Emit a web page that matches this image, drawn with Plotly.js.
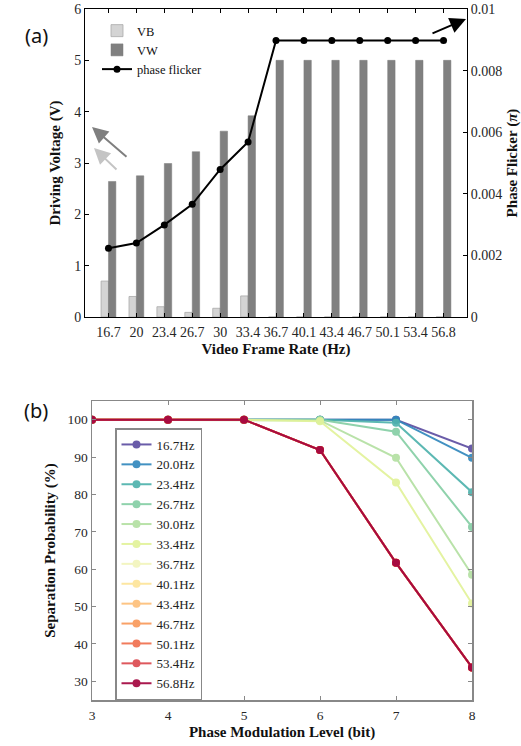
<!DOCTYPE html>
<html>
<head>
<meta charset="utf-8">
<script src="https://cdn.plot.ly/plotly-3.0.1.min.js"></script>
<style>html,body{margin:0;padding:0;background:#fff;}#chart{width:521px;height:746px;}</style>
</head>
<body>
<div id="chart"></div>
<script>
// ---------- Panel (a) data ----------
const frameRates = ['16.7','20','23.4','26.7','30','33.4','36.7','40.1','43.4','46.7','50.1','53.4','56.8'];
const vbValues = [0.70, 0.40, 0.20, 0.09, 0.17, 0.41, 0, 0, 0, 0, 0, 0, 0];
const vwValues = [2.64, 2.75, 2.99, 3.22, 3.62, 3.92, 5.0, 5.0, 5.0, 5.0, 5.0, 5.0, 5.0];
const phaseFlicker = [0.00223, 0.00240, 0.00299, 0.00366, 0.00479, 0.00568, 0.00898, 0.00898, 0.00898, 0.00898, 0.00898, 0.00898, 0.00898];
const flickerTicks = [0, 0.002, 0.004, 0.006, 0.008, 0.01];
const flickerTickText = ['0', '0.002', '0.004', '0.006', '0.008', '0.01'];

// ---------- Panel (b) data ----------
const levels = [3, 4, 5, 6, 7, 8];
const seriesNames = ['16.7Hz','20.0Hz','23.4Hz','26.7Hz','30.0Hz','33.4Hz','36.7Hz','40.1Hz','43.4Hz','46.7Hz','50.1Hz','53.4Hz','56.8Hz'];
const p167 = [100, 100, 100, 100, 100, 92.3];
const p200 = [100, 100, 100, 100, 100, 89.8];
const p234 = [100, 100, 100, 100, 99.2, 80.6];
const p267 = [100, 100, 100, 100, 96.8, 71.3];
const p300 = [100, 100, 100, 99.8, 89.8, 58.5];
const p334 = [100, 100, 100, 99.6, 83.2, 50.8];
const p367 = [100, 100, 100, 91.9, 61.7, 33.7];
const p401 = [100, 100, 100, 91.9, 61.7, 33.7];
const p434 = [100, 100, 100, 91.9, 61.7, 33.7];
const p467 = [100, 100, 100, 91.9, 61.7, 33.7];
const p501 = [100, 100, 100, 91.9, 61.7, 33.7];
const p534 = [100, 100, 100, 91.9, 61.7, 33.7];
const p568 = [100, 100, 100, 91.9, 61.7, 33.7];
const seriesValues = [p167, p200, p234, p267, p300, p334, p367, p401, p434, p467, p501, p534, p568];
const seriesColors = ['#5e4fa2','#3288bd','#4fb3ad','#86cfa5','#b4e0a2','#e2f39a','#f2f5bc','#fde49a','#fdc07a','#f99a5b','#f0704f','#dc4a50','#a3063f'];

// ---------- helpers ----------
const W = 521, H = 746;
const px = v => v / W;
const py = v => 1 - v / H;
const SERIF = 'Liberation Serif, Times New Roman, serif';
const tickFontA = {family: SERIF, size: 14, color: '#262626'};
const tickFontB = {family: SERIF, size: 13.5, color: '#262626'};
const titleFont = {family: SERIF, size: 15, color: '#111111'};

const traces = [];
traces.push({
  type: 'bar', name: 'VB', x: frameRates, y: vbValues, xaxis: 'x', yaxis: 'y',
  marker: {color: '#d4d4d4', line: {color: '#a9a9a9', width: 0.8}}, legend: 'legend'
});
traces.push({
  type: 'bar', name: 'VW', x: frameRates, y: vwValues, xaxis: 'x', yaxis: 'y',
  marker: {color: '#808080', line: {color: '#7a7a7a', width: 0.5}}, legend: 'legend'
});
traces.push({
  type: 'scatter', mode: 'lines+markers', name: 'phase flicker', x: frameRates, y: phaseFlicker,
  xaxis: 'x', yaxis: 'y2', line: {color: '#000000', width: 2}, marker: {color: '#000000', size: 7},
  legend: 'legend'
});
seriesNames.forEach((nm, i) => {
  traces.push({
    type: 'scatter', mode: 'lines+markers', name: nm, x: levels, y: seriesValues[i],
    xaxis: 'x2', yaxis: 'y3', line: {color: seriesColors[i], width: 2},
    marker: {color: seriesColors[i], size: 8}, legend: 'legend2', opacity: 0.92
  });
});

const layout = {
  width: W, height: H,
  margin: {l: 0, r: 0, t: 0, b: 0},
  paper_bgcolor: '#ffffff', plot_bgcolor: 'rgba(0,0,0,0)',
  font: {family: SERIF, color: '#262626'},
  barmode: 'group', bargap: 0.47, bargroupgap: 0,
  showlegend: true,
  xaxis: {
    domain: [px(85), px(467)], anchor: 'y', type: 'category', categoryorder: 'array', categoryarray: frameRates,
    ticks: 'inside', ticklen: 4, tickcolor: '#000', showline: true, linecolor: '#000', linewidth: 1,
    mirror: 'ticks', showgrid: false, tickfont: tickFontA, ticklabelstandoff: 2,
    title: {text: '<b>Video Frame Rate (Hz)</b>', font: titleFont, standoff: 4}
  },
  yaxis: {
    domain: [py(317), py(9)], anchor: 'x', range: [0, 6], dtick: 1, tick0: 0,
    ticks: 'inside', ticklen: 4, tickcolor: '#000', showline: true, linecolor: '#000', linewidth: 1,
    showgrid: false, zeroline: false, tickfont: tickFontA,
    title: {text: '<b>Driving Voltage (V)</b>', font: titleFont, standoff: 9}
  },
  yaxis2: {
    overlaying: 'y', side: 'right', anchor: 'x', range: [0, 0.01],
    tickvals: flickerTicks, ticktext: flickerTickText,
    ticks: 'inside', ticklen: 4, tickcolor: '#000', showline: true, linecolor: '#000', linewidth: 1,
    showgrid: false, zeroline: false, tickfont: tickFontA,
    title: {text: '<b>Phase Flicker (<i>π</i>)</b>', font: titleFont, standoff: 11}
  },
  xaxis2: {
    domain: [px(92), px(472)], anchor: 'y3', range: [3, 8], dtick: 1, tick0: 3,
    ticks: 'inside', ticklen: 4, tickcolor: '#888', showline: true, linecolor: '#888', linewidth: 1.5,
    mirror: 'ticks', showgrid: false, zeroline: false, tickfont: tickFontB, ticklabelstandoff: 2,
    title: {text: '<b>Phase Modulation Level (bit)</b>', font: titleFont, standoff: 5}
  },
  yaxis3: {
    domain: [py(700), py(401)], anchor: 'x2', range: [25, 105], dtick: 10, tick0: 0,
    ticks: 'inside', ticklen: 4, tickcolor: '#888', showline: true, linecolor: '#888', linewidth: 1.5,
    mirror: 'ticks', showgrid: false, zeroline: false, tickfont: tickFontB,
    title: {text: '<b>Separation Probability (%)</b>', font: titleFont, standoff: 8}
  },
  legend: {
    x: px(97), y: py(16), xanchor: 'left', yanchor: 'top', bgcolor: 'rgba(0,0,0,0)', borderwidth: 0,
    font: {family: SERIF, size: 12.5, color: '#111'}, tracegroupgap: 0
  },
  legend2: {
    x: px(115), y: py(428), xanchor: 'left', yanchor: 'top', bgcolor: '#ffffff',
    bordercolor: '#888', borderwidth: 1.5,
    font: {family: SERIF, size: 13, color: '#222'}, tracegroupgap: 0
  },
  annotations: [
    {xref: 'paper', yref: 'paper', x: px(23), y: py(20), text: '(a)', showarrow: false,
     font: {family: 'Noto Sans, Open Sans, sans-serif', size: 20, color: '#111'}},
    {xref: 'paper', yref: 'paper', x: px(22), y: py(410), text: '(b)', showarrow: false,
     font: {family: 'Noto Sans, Open Sans, sans-serif', size: 20, color: '#111'}},
    {xref: 'paper', yref: 'paper', x: px(92), y: py(127), ax: 36, ay: 31, text: '', showarrow: true,
     arrowhead: 2, arrowsize: 1.6, arrowwidth: 2, arrowcolor: '#7f7f7f'},
    {xref: 'paper', yref: 'paper', x: px(94), y: py(148), ax: 24, ay: 23, text: '', showarrow: true,
     arrowhead: 2, arrowsize: 1.6, arrowwidth: 2, arrowcolor: '#c4c4c4'},
    {xref: 'paper', yref: 'paper', x: px(466), y: py(19), ax: -35, ay: 15, text: '', showarrow: true,
     arrowhead: 2, arrowsize: 1.6, arrowwidth: 2, arrowcolor: '#000000'}
  ]
};

Plotly.newPlot('chart', traces, layout, {displayModeBar: false, staticPlot: true});
</script>
</body>
</html>
